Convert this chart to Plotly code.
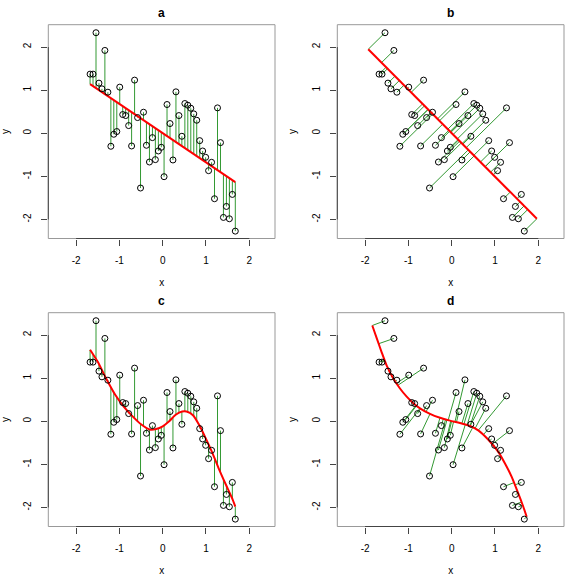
import numpy as np
import plotly.graph_objects as go

# ---------------- data ----------------
x_vals = [-1.677, -1.609, -1.540, -1.472, -1.403, -1.335, -1.266, -1.197, -1.129, -1.060,
          -0.992, -0.923, -0.855, -0.786, -0.718, -0.649, -0.580, -0.512, -0.443, -0.375,
          -0.306, -0.237, -0.169, -0.100, -0.032, 0.032, 0.100, 0.169, 0.237, 0.306,
          0.375, 0.443, 0.512, 0.580, 0.649, 0.718, 0.786, 0.855, 0.923, 0.992,
          1.060, 1.129, 1.197, 1.266, 1.335, 1.403, 1.472, 1.540, 1.609, 1.677]
y_vals = [1.372, 1.372, 2.333, 1.163, 1.031, 1.922, 0.953, -0.302, -0.023, 0.040,
          1.070, 0.434, 0.411, 0.178, -0.295, 1.233, 0.364, -1.271, 0.488, -0.279,
          -0.667, -0.101, -0.612, -0.411, -0.326, -1.008, 0.667, 0.225, -0.620, 0.961,
          0.411, -0.070, 0.690, 0.651, 0.581, 0.450, 0.302, -0.171, -0.411, -0.558,
          -0.868, -0.674, -1.519, 0.589, -0.217, -1.953, -1.698, -1.984, -1.419, -2.271]

# smooth curve of panel c
curve_c_x = [-1.677, -1.5, -1.3, -1.1, -0.9, -0.7, -0.5, -0.3, -0.15, 0.0, 0.15, 0.3,
             0.45, 0.55, 0.7, 0.85, 1.0, 1.15, 1.3, 1.45, 1.6, 1.677]
curve_c_y = [1.66, 1.38, 0.98, 0.62, 0.34, 0.12, -0.07, -0.19, -0.18, -0.12, 0.0, 0.15,
             0.225, 0.225, 0.14, -0.1, -0.41, -0.74, -1.11, -1.45, -1.78, -1.98]

# principal curve of panel d
curve_d_x = [-1.834, -1.732, -1.617, -1.501, -1.348, -1.194, -1.039, -0.887, -0.732,
             -0.501, -0.27, -0.04, 0.192, 0.423, 0.614, 0.769, 0.924, 1.076, 1.231,
             1.386, 1.538, 1.654, 1.732]
curve_d_y = [2.222, 1.93, 1.60, 1.29, 0.99, 0.76, 0.57, 0.42, 0.30,
             0.17, 0.08, 0.015, -0.04, -0.11, -0.21, -0.347, -0.516, -0.71, -0.98,
             -1.289, -1.674, -1.984, -2.215]

panel_titles = ["a", "b", "c", "d"]
tick_vals = [-2, -1, 0, 1, 2]
tick_text = ["-2", "-1", "0", "1", "2"]

# ---------------- computations ----------------
X = np.array(x_vals)
Y = np.array(y_vals)

# a: ordinary least squares
slope, intercept = np.polyfit(X, Y, 1)
fit_a = intercept + slope * X
line_a_x = [X.min(), X.max()]
line_a_y = [intercept + slope * X.min(), intercept + slope * X.max()]

# b: first principal component
M = np.column_stack([X, Y])
mu = M.mean(axis=0)
C = np.cov((M - mu).T)
w, v = np.linalg.eigh(C)
d = v[:, np.argmax(w)]
t = (M - mu) @ d
proj_b = mu + np.outer(t, d)
line_b = mu + np.outer([t.min(), t.max()], d)

# c: vertical distance to smooth curve
fit_c = np.interp(X, curve_c_x, curve_c_y)

# d: nearest point on principal curve
P = np.column_stack([curve_d_x, curve_d_y])


def nearest_on_polyline(p, poly):
    best, bestd = None, np.inf
    for i in range(len(poly) - 1):
        a, b = poly[i], poly[i + 1]
        ab = b - a
        s = np.clip(np.dot(p - a, ab) / np.dot(ab, ab), 0, 1)
        q = a + s * ab
        dd = np.sum((p - q) ** 2)
        if dd < bestd:
            best, bestd = q, dd
    return best


proj_d = np.array([nearest_on_polyline(p, P) for p in M])


def seg_xy(x0, y0, x1, y1):
    sx, sy = [], []
    for a, b, c, e in zip(x0, y0, x1, y1):
        sx += [a, c, None]
        sy += [b, e, None]
    return sx, sy


GREEN = "#339933"
RED = "#ff0000"
FONT = "Liberation Sans, Arial, Helvetica, sans-serif"

fig = go.Figure()

panels = [
    ("x", "y", seg_xy(X, Y, X, fit_a), (line_a_x, line_a_y)),
    ("x2", "y2", seg_xy(X, Y, proj_b[:, 0], proj_b[:, 1]), (line_b[:, 0], line_b[:, 1])),
    ("x3", "y3", seg_xy(X, Y, X, fit_c), (curve_c_x, curve_c_y)),
    ("x4", "y4", seg_xy(X, Y, proj_d[:, 0], proj_d[:, 1]), (curve_d_x, curve_d_y)),
]

for xa, ya, (sx, sy), (lx, ly) in panels:
    fig.add_trace(go.Scatter(x=sx, y=sy, mode="lines", xaxis=xa, yaxis=ya,
                             line=dict(color=GREEN, width=1), hoverinfo="skip",
                             showlegend=False))
    fig.add_trace(go.Scatter(x=list(lx), y=list(ly), mode="lines", xaxis=xa, yaxis=ya,
                             line=dict(color=RED, width=2, shape="spline", smoothing=0.6),
                             showlegend=False))
    fig.add_trace(go.Scatter(x=x_vals, y=y_vals, mode="markers", xaxis=xa, yaxis=ya,
                             marker=dict(symbol="circle-open", size=6,
                                         color="black", line=dict(width=1, color="black")),
                             showlegend=False))

W = H = 576
left_dom = [48.3 / W, 275.0 / W]
right_dom = [337.3 / W, 564.0 / W]
top_dom = [1 - 238.5 / H, 1 - 24.7 / H]
bot_dom = [1 - 526.5 / H, 1 - 312.7 / H]
x_range = [-2.642, 2.594]
y_range = [-2.442, 2.519]

common_x = dict(range=x_range, tickvals=tick_vals, ticktext=tick_text, ticks="outside",
                ticklen=6, tickcolor="#444", showgrid=False, zeroline=False,
                showline=False, tickfont=dict(size=10, color="black", family=FONT),
                ticklabelstandoff=6,
                title=dict(text="x", font=dict(size=10, family=FONT, color="black"),
                           standoff=14))
common_y = dict(range=y_range, tickvals=tick_vals, ticktext=tick_text, ticks="outside",
                ticklen=6, tickcolor="#444", showgrid=False, zeroline=False,
                showline=False, tickangle=-90,
                tickfont=dict(size=10, color="black", family=FONT),
                ticklabelstandoff=6,
                title=dict(text="y", font=dict(size=10, family=FONT, color="black"),
                           standoff=12))

doms = {"": (left_dom, top_dom), "2": (right_dom, top_dom),
        "3": (left_dom, bot_dom), "4": (right_dom, bot_dom)}
layout = {}
shapes = []
annotations = []
for i, (k, (xd, yd)) in enumerate(doms.items()):
    layout["xaxis" + k] = dict(common_x, domain=xd, anchor="y" + k)
    layout["yaxis" + k] = dict(common_y, domain=yd, anchor="x" + k)
    xr, yr = "x" + k, "y" + k
    shapes.append(dict(type="rect", xref=xr + " domain", yref=yr + " domain",
                       x0=0, x1=1, y0=0, y1=1, line=dict(color="#999", width=1)))
    shapes.append(dict(type="line", xref=xr, yref=yr + " domain",
                       x0=tick_vals[0], x1=tick_vals[-1], y0=0, y1=0,
                       line=dict(color="#444", width=1)))
    shapes.append(dict(type="line", xref=xr + " domain", yref=yr,
                       x0=0, x1=0, y0=tick_vals[0], y1=tick_vals[-1],
                       line=dict(color="#444", width=1)))
    annotations.append(dict(text="<b>%s</b>" % panel_titles[i], xref="paper", yref="paper",
                            x=(xd[0] + xd[1]) / 2, y=yd[1] + 11.5 / H, yanchor="middle",
                            xanchor="center", showarrow=False,
                            font=dict(size=12, family=FONT, color="black")))

fig.update_layout(width=W, height=H, margin=dict(l=0, r=0, t=0, b=0),
                  plot_bgcolor="white", paper_bgcolor="white",
                  shapes=shapes, annotations=annotations, **layout)

fig.write_html("out.html")
